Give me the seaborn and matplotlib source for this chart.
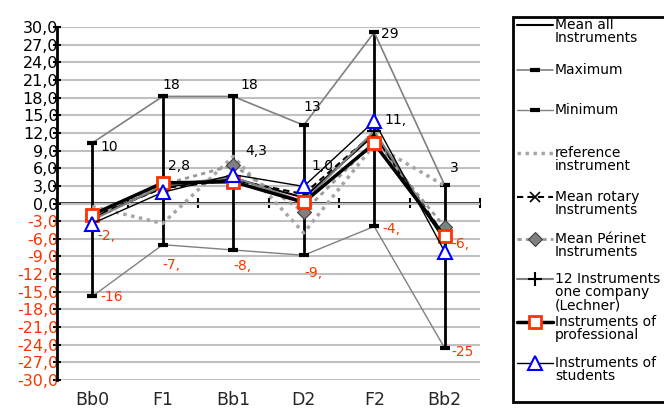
import matplotlib
matplotlib.use("Agg")
import matplotlib.pyplot as plt
import seaborn as sns
import numpy as np
from matplotlib.patches import Rectangle
from matplotlib.lines import Line2D

# values
notes = ["Bb0", "F1", "Bb1", "D2", "F2", "Bb2"]
maximum = [10.3, 18.2, 18.2, 13.3, 29.1, 3.1]
minimum = [-15.8, -7.0, -7.9, -8.8, -3.9, -24.6]
mean_all = [-2.5, 2.8, 4.3, 1.0, 11.7, -6.3]
reference = [-0.5, -3.4, 8.0, -5.0, 10.0, 3.0]
mean_rotary = [-2.2, 2.6, 4.0, 1.6, 12.0, -5.6]
mean_perinet = [-2.0, 3.2, 6.5, -1.4, 10.5, -4.0]
lechner = [-2.8, 3.0, 4.5, 0.3, 12.3, -6.0]
professional = [-1.9, 3.5, 3.7, 0.2, 10.2, -5.6]
students = [-3.4, 1.9, 4.9, 2.9, 14.0, -8.2]

max_labels = ["10", "18", "18", "13", "29", "3"]
min_labels = ["-16", "-7,", "-8,", "-9,", "-4,", "-25"]
mean_labels = ["-2,", "2,8", "4,3", "1,0", "11,", "-6,"]

yticks = np.arange(-30, 31, 3)
ytick_labels = [("%.1f" % v).replace(".", ",") for v in yticks]

RED = "#ff3300"

sns.set_theme(style="white")
plt.rcParams["font.family"] = ["DejaVu Sans"]

fig = plt.figure(figsize=(6.64, 4.08), dpi=100)
ax = fig.add_axes([57 / 664, 28 / 408, 423 / 664, 353 / 408])

xs = np.arange(len(notes))

# high-low lines
ax.vlines(xs, minimum, maximum, color="black", lw=2, zorder=3)

series = [
    (mean_all, dict(color="black", lw=1.5)),
    (maximum, dict(color="#808080", lw=1.2, marker="_", markersize=7,
                   markeredgewidth=3, markeredgecolor="black")),
    (minimum, dict(color="#808080", lw=1.0, marker="_", markersize=7,
                   markeredgewidth=3, markeredgecolor="black")),
    (reference, dict(color="#a6a6a6", lw=2.5, linestyle=(0, (1, 1.3)))),
    (mean_rotary, dict(color="black", lw=1.5, linestyle=(0, (3, 2)), marker="x",
                       markersize=7, markeredgewidth=1.2, markeredgecolor="black")),
    (mean_perinet, dict(color="#999999", lw=2, linestyle=(0, (1.5, 1.5)), marker="D",
                        markersize=7, markerfacecolor="#808080",
                        markeredgecolor="#404040", markeredgewidth=0.8)),
    (lechner, dict(color="#808080", lw=1.5, marker="+", markersize=10,
                   markeredgewidth=1.5, markeredgecolor="black")),
    (professional, dict(color="black", lw=2.5, marker="s", markersize=9,
                        markerfacecolor="white", markeredgecolor=RED,
                        markeredgewidth=2)),
    (students, dict(color="black", lw=1.0, marker="^", markersize=10,
                    markerfacecolor="white", markeredgecolor="#0000ff",
                    markeredgewidth=1.5)),
]
for vals, kw in series:
    sns.lineplot(x=xs, y=vals, ax=ax, legend=False, zorder=4, **kw)

# data labels
max_off = [(8, -4), (0, 11), (7, 11), (0, 18), (7, -2), (5, 17)]
min_off = [(8, -1), (0, -20), (0, -16), (1, -18), (8, -3), (7, -4)]
mean_off = [(5, -18), (5, 21), (12, 27), (8, 32), (10, 15), (7, -3)]
for vals, labs, offs in [(maximum, max_labels, max_off),
                         (minimum, min_labels, min_off),
                         (mean_all, mean_labels, mean_off)]:
    for x, v, lab, off in zip(xs, vals, labs, offs):
        ax.annotate(lab, (x, v), xytext=off, textcoords="offset pixels",
                    ha="left", va="center", fontsize=10,
                    color=RED if lab.startswith("-") else "black", zorder=6)

ax.set_xlim(-0.5, len(notes) - 0.5)
ax.set_ylim(-30, 30)
ax.set_yticks(yticks)
ax.set_yticklabels(ytick_labels)
for t, v in zip(ax.get_yticklabels(), yticks):
    t.set_color(RED if v < 0 else "black")
ax.tick_params(axis="y", direction="inout", length=6, width=1.5, pad=-4,
               labelsize=11.5, left=True, color="black")
ax.set_xticks(xs)
ax.set_xticklabels(notes)
ax.tick_params(axis="x", length=0, pad=8, labelsize=12.5)
ax.yaxis.grid(True, color="#c0c0c0", lw=1.5)
ax.xaxis.grid(False)
for s in ["top", "right", "bottom"]:
    ax.spines[s].set_visible(False)
ax.spines["left"].set_color("black")
ax.spines["left"].set_linewidth(2)

# category axis crossing at zero
sec = ax.secondary_xaxis(0.5)
sec.set_xticks(np.arange(-0.5, len(notes), 1.0))
sec.set_xticklabels([""] * (len(notes) + 1))
sec.tick_params(direction="inout", length=7, width=1.5, color="black")
sec.spines["bottom"].set_color("black")
sec.spines["bottom"].set_linewidth(1.5)

# legend box drawn by hand (Excel style)
lg = fig.add_axes([0, 0, 1, 1], zorder=10)
lg.set_xlim(0, 664)
lg.set_ylim(408, 0)
lg.axis("off")
lg.add_patch(Rectangle((513, 17), 220, 385, facecolor="white",
                       edgecolor="black", lw=2))
entries = [
    ("Mean all\nInstruments", 25, series[0][1]),
    ("Maximum", 70, series[1][1]),
    ("Minimum", 110, series[2][1]),
    ("reference\ninstrument", 153, series[3][1]),
    ("Mean rotary\nInstruments", 197, series[4][1]),
    ("Mean Périnet\nInstruments", 239, series[5][1]),
    ("12 Instruments\none company\n(Lechner)", 279, series[6][1]),
    ("Instruments of\nprofessional", 322, series[7][1]),
    ("Instruments of\nstudents", 363, series[8][1]),
]
for text, y, kw in entries:
    k = dict(kw)
    lg.add_line(Line2D([517, 553], [y, y], **{kk: vv for kk, vv in k.items()
                                              if not kk.startswith("marker")}))
    if "marker" in k:
        mk = {kk: vv for kk, vv in k.items() if kk.startswith("marker")}
        lg.add_line(Line2D([535], [y], linestyle="none", **mk))
    lg.text(555, y - 7, text, ha="left", va="top", fontsize=10,
            linespacing=0.95, color="black")

fig.savefig("out.png", dpi=100)
